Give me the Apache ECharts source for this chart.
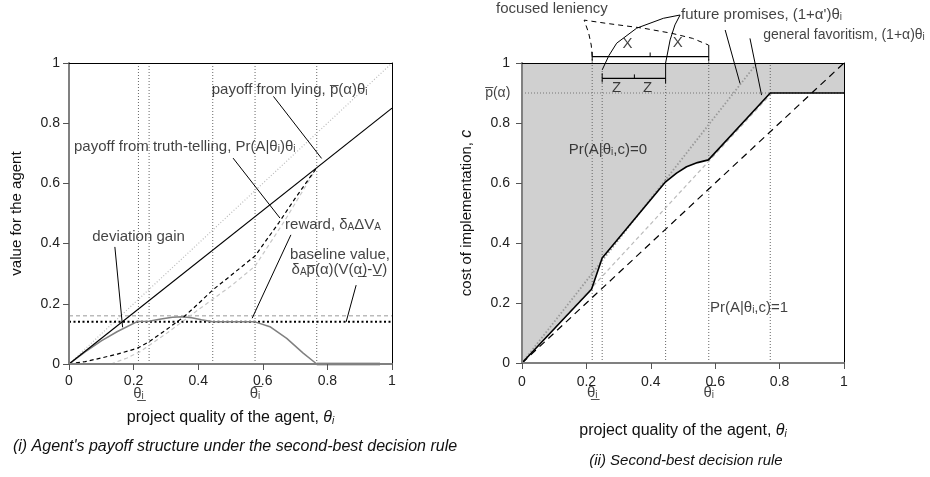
<!DOCTYPE html>
<html>
<head>
<meta charset="utf-8">
<script src="https://cdn.jsdelivr.net/npm/echarts/dist/echarts.min.js"></script>
<style>html,body{margin:0;padding:0;background:#fff}#chart{width:930px;height:477px}</style>
</head>
<body>
<div id="chart"></div>
<script>
// values
const ticks = [0, 0.2, 0.4, 0.6, 0.8, 1];
const thetaLeft = [0.215, 0.248, 0.445, 0.576, 0.767];
const thetaRight = [0.218, 0.249, 0.446, 0.58, 0.771];
const pBar = 0.9;
const baseline = 0.14;
const baselineAlt = 0.16;

const diagonal = [[0, 0], [1, 1]];
const lyingPayoff = [[0, 0], [1, 0.85]];
const truthPayoff = [[0, 0], [0.05, 0.008], [0.1, 0.02], [0.15, 0.033], [0.211, 0.052], [0.248, 0.074],
  [0.3, 0.113], [0.356, 0.157], [0.4, 0.2], [0.445, 0.246], [0.5, 0.293], [0.576, 0.359],
  [0.65, 0.47], [0.7, 0.55], [0.767, 0.652]];
const truthPayoffAlt = [[0.13, 0], [0.18, 0.02], [0.22, 0.041], [0.3, 0.1], [0.4, 0.18], [0.5, 0.258],
  [0.576, 0.325], [0.67, 0.48], [0.767, 0.652]];
const reward = [[0, 0], [0.05, 0.040], [0.1, 0.077], [0.15, 0.108], [0.211, 0.141], [0.248, 0.142],
  [0.28, 0.149], [0.32, 0.155], [0.35, 0.157], [0.38, 0.154], [0.41, 0.147], [0.445, 0.14],
  [0.576, 0.14], [0.622, 0.124], [0.674, 0.085], [0.725, 0.036], [0.767, 0]];
const rewardTail = [[0.767, 0], [0.963, 0]];

const boundary = [[0, 0], [0.216, 0.246], [0.249, 0.35], [0.446, 0.604], [0.48, 0.633], [0.511, 0.654],
  [0.545, 0.668], [0.579, 0.677], [0.771, 0.9], [1, 0.9]];
const firstBest = [[0, 0], [1, 1]];
const futurePromises = [[0, 0], [0.73, 1]];
const generalFavoritism = [[0, 0], [0.776, 0.9]];

const FONT = 'Liberation Sans, Arial, sans-serif';
const RICH = {
  s: {fontSize: 10, verticalAlign: 'bottom', fontFamily: FONT, color: '#111'},
  it: {fontSize: 16, fontStyle: 'italic', fontFamily: FONT, color: '#111'},
  si: {fontSize: 10, fontStyle: 'italic', verticalAlign: 'bottom', fontFamily: FONT, color: '#111'}
};

function line(data, g, color, width, type, z) {
  return {type: 'line', xAxisIndex: g * 2, yAxisIndex: g * 2, data: data, symbol: 'none',
    silent: true, animation: false, clip: false, z: z || 3,
    lineStyle: {color: color, width: width, type: type || 'solid'}};
}

function texts(items, g) {
  return {type: 'scatter', xAxisIndex: g * 2, yAxisIndex: g * 2, symbolSize: 0, silent: true,
    animation: false, clip: false, z: 10,
    data: items.map(function (it) {
      return {value: [it[0], it[1]], label: {show: true, position: [0, 0], formatter: it[2],
        align: it[3] || 'left', verticalAlign: it[4] || 'middle', fontSize: it[5] || 15,
        color: '#111', fontFamily: FONT, rich: RICH}};
    })};
}

function baseX(g, name, gap, margin) {
  return {type: 'value', gridIndex: g, min: 0, max: 1, interval: 0.2, position: 'bottom', z: 5,
    axisLine: {show: true, onZero: false, lineStyle: {color: '#808080', width: 2}},
    axisTick: {show: true, length: 6, lineStyle: {color: '#555', width: 1}},
    axisLabel: {show: true, margin: margin, fontSize: 14, color: '#222', fontFamily: FONT},
    splitLine: {show: false},
    name: name, nameLocation: 'middle', nameGap: gap,
    nameTextStyle: {fontSize: 16, color: '#111', fontFamily: FONT, rich: RICH}};
}
function baseY(g, name, gap, margin) {
  return {type: 'value', gridIndex: g, min: 0, max: 1, interval: 0.2, position: 'left', z: 5,
    axisLine: {show: true, onZero: false, lineStyle: {color: '#808080', width: 2}},
    axisTick: {show: true, length: 6, lineStyle: {color: '#555', width: 1}},
    axisLabel: {show: true, margin: margin, fontSize: 14, color: '#222', fontFamily: FONT},
    splitLine: {show: false},
    name: name, nameLocation: 'middle', nameGap: gap,
    nameTextStyle: {fontSize: 15, color: '#111', fontFamily: FONT, rich: RICH}};
}
function borderAxis(g, pos) {
  return {type: 'value', gridIndex: g, min: 0, max: 1, position: pos, z: 5,
    axisLine: {show: true, onZero: false, lineStyle: {color: '#000', width: 1}},
    axisTick: {show: false}, axisLabel: {show: false}, splitLine: {show: false}};
}

let dom = document.getElementById('chart');
let myChart = echarts.init(dom, null, {renderer: 'canvas'});

const dots = [1, 2];
let series = [];

// left panel
thetaLeft.forEach(function (t) { series.push(line([[t, 0], [t, 1]], 0, '#666', 1, dots, 2)); });
series.push(line(diagonal, 0, '#bbb', 1.2, dots));
series.push(line([[0, baselineAlt], [1, baselineAlt]], 0, '#bbb', 1.5, [4, 3]));
series.push(line([[0, baseline], [1, baseline]], 0, '#000', 2, [2, 2.5]));
series.push(line(truthPayoffAlt, 0, '#c8c8c8', 1.2, [4, 3]));
series.push(line(reward, 0, '#808080', 1.5));
series.push(line(rewardTail, 0, '#a0a0a0', 3));
series.push(line(truthPayoff, 0, '#000', 1.2, [4, 3]));
series.push(line(lyingPayoff, 0, '#000', 1.2));
[[[0.633, 0.889], [0.782, 0.683]], [[0.508, 0.684], [0.653, 0.485]], [[0.687, 0.429], [0.567, 0.152]],
 [[0.889, 0.262], [0.858, 0.14]], [[0.142, 0.389], [0.166, 0.122]]].forEach(function (d) {
  series.push(line(d, 0, '#000', 1));
});
series.push(texts([
  [0.442, 0.91, 'payoff from lying, p\u0305(α)θ{s|i}'],
  [0.0155, 0.721, 'payoff from truth-telling, Pr(A|θ{s|i})θ{s|i}'],
  [0.669, 0.462, 'reward, δ{s|A}ΔV{s|A}'],
  [0.684, 0.362, 'baseline value,'],
  [0.689, 0.312, 'δ{s|A}p\u0305(α)(V(α\u0332)-V\u0332)'],
  [0.072, 0.423, 'deviation gain'],
  [thetaLeft[0], 0, 'θ\u0332{s|i}', 'center', 'top'],
  [thetaLeft[3], 0, 'θ\u0305{s|i}', 'center', 'top']
], 0));

// right panel
series.push({type: 'line', xAxisIndex: 2, yAxisIndex: 2, data: boundary, symbol: 'none', silent: true,
  animation: false, z: 1, lineStyle: {width: 0}, areaStyle: {color: '#d0d0d0', opacity: 1, origin: 'end'}});
const rightTops = [1.021, 0.977, 0.949, 1.021, 1];
thetaRight.forEach(function (t, i) { series.push(line([[t, 0], [t, rightTops[i]]], 1, '#666', 1, dots, 2)); });
series.push(line([[0, pBar], [1, pBar]], 1, '#777', 1, dots, 2));
series.push(line(generalFavoritism, 1, '#bbb', 1.2, [4, 3]));
series.push(line(futurePromises, 1, '#999', 1.8, [1.5, 2]));
series.push(line(firstBest, 1, '#000', 1.2, [7, 5]));
series.push(line(boundary, 1, '#000', 1.6, 'solid', 4));
// annotation marks above the plot
series.push(line([[0.218, 1.021], [0.215, 1.06], [0.207, 1.1], [0.193, 1.143], [0.263, 1.132],
  [0.377, 1.116], [0.465, 1.099], [0.53, 1.082], [0.579, 1.06]], 1, '#000', 1, [5, 4]));
series.push(line([[0.249, 0.977], [0.27, 1.025], [0.294, 1.066], [0.356, 1.116], [0.439, 1.149], [0.491, 1.16]], 1, '#000', 1));
series.push(line([[0.446, 0.932], [0.446, 1.0], [0.46, 1.077], [0.475, 1.127], [0.491, 1.16]], 1, '#000', 1));
series.push(line([[0.218, 1.021], [0.58, 1.021]], 1, '#000', 1.2));
series.push(line([[0.218, 1.005], [0.218, 1.037]], 1, '#000', 1));
series.push(line([[0.398, 1.021], [0.398, 1.035]], 1, '#000', 1));
series.push(line([[0.58, 1.005], [0.58, 1.06]], 1, '#000', 1));
series.push(line([[0.249, 0.949], [0.446, 0.949]], 1, '#000', 1.2));
series.push(line([[0.249, 0.935], [0.249, 0.966]], 1, '#000', 1));
series.push(line([[0.349, 0.949], [0.349, 0.962]], 1, '#000', 1));
series.push(line([[0.631, 1.11], [0.677, 0.932]], 1, '#000', 1));
series.push(line([[0.708, 1.082], [0.744, 0.893]], 1, '#000', 1));
series.push(texts([
  [0.093, 1.18, 'focused leniency', 'center'],
  [0.494, 1.16, 'future promises, (1+α\')θ{s|i}'],
  [0.749, 1.093, 'general favoritism, (1+α)θ{s|i}', 'left', 'middle', 14],
  [0.267, 0.71, 'Pr(A|θ{s|i},c)=0', 'center'],
  [0.705, 0.183, 'Pr(A|θ{s|i},c)=1', 'center'],
  [0.328, 1.063, 'X', 'center'],
  [0.484, 1.067, 'X', 'center'],
  [0.294, 0.916, 'Z', 'center'],
  [0.39, 0.916, 'Z', 'center'],
  [0, pBar, 'p\u0305(α)   ', 'right', 'middle', 14],
  [thetaRight[0], 0, 'θ\u0332{s|i}', 'center', 'top'],
  [thetaRight[3], 0, 'θ\u0305{s|i}', 'center', 'top']
], 1));

// offset the theta labels below tick labels
series.forEach(function (s) {
  if (s.type === 'scatter') {
    s.data.forEach(function (d) {
      if (d.value[1] === 0) { d.label.offset = [0, 22]; }
    });
  }
});

let option = {
  animation: false,
  backgroundColor: '#fff',
  grid: [
    {left: 69, top: 63, width: 323, height: 301, containLabel: false, outerBoundsMode: 'none'},
    {left: 522, top: 63, width: 322, height: 300, containLabel: false, outerBoundsMode: 'none'}
  ],
  xAxis: [
    baseX(0, 'project quality of the agent, {it|θ}{si|i}', 46, 10),
    borderAxis(0, 'top'),
    baseX(1, 'project quality of the agent, {it|θ}{si|i}', 60, 12),
    borderAxis(1, 'top')
  ],
  yAxis: [
    baseY(0, 'value for the agent', 45, 9),
    borderAxis(0, 'right'),
    baseY(1, 'cost of implementation, {it|c}', 47, 12),
    borderAxis(1, 'right')
  ],
  graphic: [
    {type: 'text', x: 235, y: 447, silent: true,
      style: {text: '(i) Agent\'s payoff structure under the second-best decision rule', align: 'center',
        verticalAlign: 'middle', font: 'italic 16px Liberation Sans', fill: '#111'}},
    {type: 'text', x: 686, y: 461, silent: true,
      style: {text: '(ii) Second-best decision rule', align: 'center',
        verticalAlign: 'middle', font: 'italic 15px Liberation Sans', fill: '#111'}}
  ],
  series: series
};

if (option && typeof option === 'object') {
  myChart.setOption(option);
}

window.addEventListener('resize', myChart.resize);
</script>
</body>
</html>
